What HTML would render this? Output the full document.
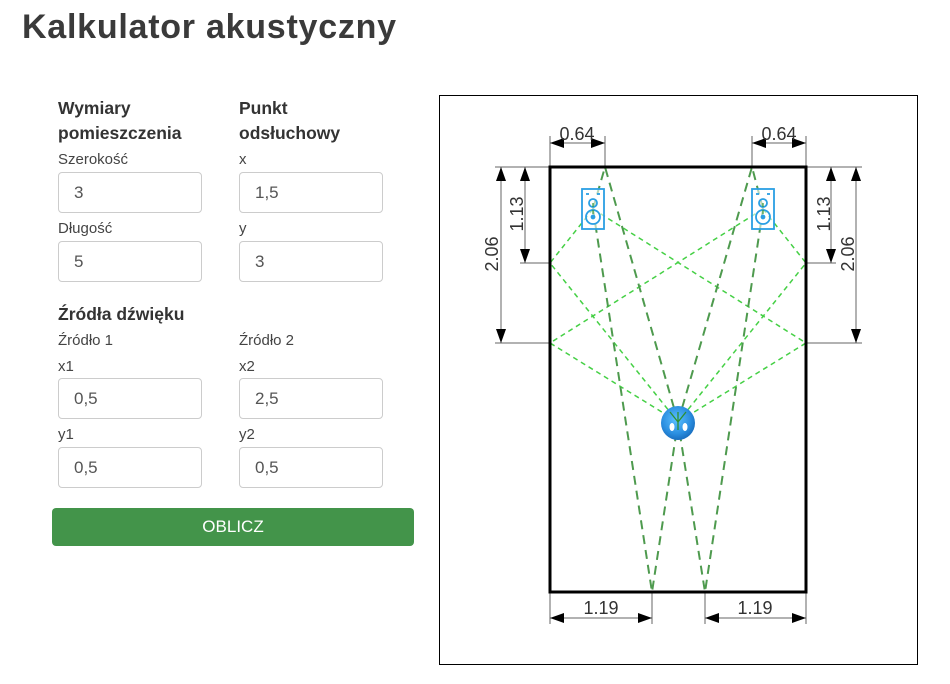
<!DOCTYPE html>
<html><head><meta charset="utf-8"><style>
html,body{margin:0;padding:0;background:#fff;}
body{width:950px;height:684px;position:relative;overflow:hidden;font-family:"Liberation Sans",Arial,sans-serif;}
.t{position:absolute;white-space:nowrap;line-height:1;}
.title{left:22px;top:10px;font-size:34px;font-weight:bold;color:#3a3a3a;letter-spacing:0.75px;}
.h{font-size:17.5px;font-weight:bold;color:#333;}
.l{font-size:15px;color:#444;}
.in{position:absolute;width:142px;height:39px;border:1px solid #ccc;border-radius:4px;background:#fff;box-sizing:content-box;}
.in span{position:absolute;left:15px;top:11px;font-size:17px;color:#555;line-height:1;}
.btn{position:absolute;left:52px;top:508px;width:362px;height:38px;background:#43944a;border-radius:4px;color:#fff;font-size:17px;text-align:center;line-height:38px;}
.frame{position:absolute;left:439px;top:95px;width:477px;height:568px;border:1px solid #000;}
</style></head><body>
<div class="t title">Kalkulator akustyczny</div>

<div class="t h" style="left:58px;top:100px;">Wymiary</div>
<div class="t h" style="left:58px;top:125px;">pomieszczenia</div>
<div class="t h" style="left:239px;top:100px;">Punkt</div>
<div class="t h" style="left:239px;top:125px;">odsłuchowy</div>

<div class="t l" style="left:58px;top:152px;">Szerokość</div>
<div class="t l" style="left:239px;top:152px;">x</div>
<div class="in" style="left:58px;top:172px;"><span>3</span></div>
<div class="in" style="left:239px;top:172px;"><span>1,5</span></div>

<div class="t l" style="left:58px;top:221px;">Długość</div>
<div class="t l" style="left:239px;top:221px;">y</div>
<div class="in" style="left:58px;top:241px;"><span>5</span></div>
<div class="in" style="left:239px;top:241px;"><span>3</span></div>

<div class="t h" style="left:58px;top:306px;">Źródła dźwięku</div>
<div class="t l" style="left:58px;top:333px;">Źródło 1</div>
<div class="t l" style="left:239px;top:333px;">Źródło 2</div>
<div class="t l" style="left:58px;top:359px;">x1</div>
<div class="t l" style="left:239px;top:359px;">x2</div>
<div class="in" style="left:58px;top:378px;"><span>0,5</span></div>
<div class="in" style="left:239px;top:378px;"><span>2,5</span></div>
<div class="t l" style="left:58px;top:427px;">y1</div>
<div class="t l" style="left:239px;top:427px;">y2</div>
<div class="in" style="left:58px;top:447px;"><span>0,5</span></div>
<div class="in" style="left:239px;top:447px;"><span>0,5</span></div>

<div class="btn">OBLICZ</div>

<div class="frame"></div>

<svg width="950" height="684" style="position:absolute;left:0;top:0;" xmlns="http://www.w3.org/2000/svg">
<defs>
<radialGradient id="lg" cx="45%" cy="40%" r="60%">
<stop offset="0" stop-color="#5cc0ff"/>
<stop offset="0.7" stop-color="#2a8ee0"/>
<stop offset="1" stop-color="#1a6fc0"/>
</radialGradient>
</defs>
<!-- extension lines -->
<g stroke="#666" stroke-width="1" fill="none">
<line x1="550" y1="136" x2="550" y2="167"/>
<line x1="605" y1="136" x2="605" y2="167"/>
<line x1="752" y1="136" x2="752" y2="167"/>
<line x1="806" y1="136" x2="806" y2="167"/>
<line x1="495" y1="167" x2="550" y2="167"/>
<line x1="520" y1="263" x2="550" y2="263"/>
<line x1="495" y1="343" x2="550" y2="343"/>
<line x1="806" y1="167" x2="862" y2="167"/>
<line x1="806" y1="263" x2="836" y2="263"/>
<line x1="806" y1="343" x2="862" y2="343"/>
<line x1="550" y1="592" x2="550" y2="624"/>
<line x1="652" y1="592" x2="652" y2="624"/>
<line x1="705" y1="592" x2="705" y2="624"/>
<line x1="806" y1="592" x2="806" y2="624"/>
<!-- dimension lines -->
<line x1="550" y1="143" x2="605" y2="143"/>
<line x1="752" y1="143" x2="806" y2="143"/>
<line x1="525" y1="167" x2="525" y2="263"/>
<line x1="501" y1="167" x2="501" y2="343"/>
<line x1="831" y1="167" x2="831" y2="263"/>
<line x1="856" y1="167" x2="856" y2="343"/>
<line x1="550" y1="618" x2="652" y2="618"/>
<line x1="705" y1="618" x2="806" y2="618"/>
</g>
<!-- arrowheads -->
<g fill="#000">
<polygon points="550,143 564,138 564,148"/>
<polygon points="605,143 591,138 591,148"/>
<polygon points="752,143 766,138 766,148"/>
<polygon points="806,143 792,138 792,148"/>
<polygon points="525,167 520,181 530,181"/>
<polygon points="525,263 520,249 530,249"/>
<polygon points="501,167 496,181 506,181"/>
<polygon points="501,343 496,329 506,329"/>
<polygon points="831,167 826,181 836,181"/>
<polygon points="831,263 826,249 836,249"/>
<polygon points="856,167 851,181 861,181"/>
<polygon points="856,343 851,329 861,329"/>
<polygon points="550,618 564,613 564,623"/>
<polygon points="652,618 638,613 638,623"/>
<polygon points="705,618 719,613 719,623"/>
<polygon points="806,618 792,613 792,623"/>
</g>
<!-- dimension text -->
<g font-family="Liberation Sans, Arial, sans-serif" font-size="18" fill="#333" text-anchor="middle">
<text x="577" y="140">0.64</text>
<text x="779" y="140">0.64</text>
<text x="601" y="614">1.19</text>
<text x="755" y="614">1.19</text>
<text transform="translate(523,214) rotate(-90)">1.13</text>
<text transform="translate(498,254) rotate(-90)">2.06</text>
<text transform="translate(830,214) rotate(-90)">1.13</text>
<text transform="translate(854,254) rotate(-90)">2.06</text>
</g>
<!-- light green reflections -->
<g stroke="#45d045" stroke-width="1.5" stroke-dasharray="5 4" fill="none">
<polyline points="593,209 550,263 678,422"/>
<polyline points="593,209 806,343 678,422"/>
<polyline points="763,209 806,263 678,422"/>
<polyline points="763,209 550,343 678,422"/>
</g>
<!-- dark green reflections -->
<g stroke="#4e9a4e" stroke-width="2" stroke-dasharray="9 6" fill="none">
<polyline points="593,209 605,167 678,422"/>
<polyline points="763,209 752,167 678,422"/>
<polyline points="593,209 652,592 678,422"/>
<polyline points="763,209 705,592 678,422"/>
</g>
<!-- room walls -->
<rect x="550" y="167" width="256" height="425" fill="none" stroke="#000" stroke-width="3"/>
<!-- speakers -->
<g stroke="#2a9fe4" stroke-width="1.8" fill="none">
<rect x="582" y="189" width="22" height="40" fill="#fff" fill-opacity="0.6"/>
<line x1="586" y1="194" x2="589" y2="194"/>
<line x1="597" y1="194" x2="600" y2="194"/>
<circle cx="593" cy="203" r="4"/>
<circle cx="593" cy="217" r="7"/>
<circle cx="593" cy="217" r="1.5" fill="#2a9fe4"/>
<rect x="752" y="189" width="22" height="40" fill="#fff" fill-opacity="0.6"/>
<line x1="756" y1="194" x2="759" y2="194"/>
<line x1="767" y1="194" x2="770" y2="194"/>
<circle cx="763" cy="203" r="4"/>
<circle cx="763" cy="217" r="7"/>
<circle cx="763" cy="217" r="1.5" fill="#2a9fe4"/>
</g>
<g stroke="#3a9a3a" stroke-width="1.2" stroke-dasharray="4 3">
<line x1="593" y1="203" x2="593" y2="217"/>
<line x1="763" y1="203" x2="763" y2="217"/>
</g>
<!-- listener -->
<circle cx="678" cy="423" r="17" fill="url(#lg)"/>
<ellipse cx="672" cy="427" rx="2.5" ry="4" fill="#fff"/>
<ellipse cx="685" cy="427" rx="2.5" ry="4" fill="#fff"/>
<g stroke="#2f8f2f" stroke-width="1.3">
<line x1="670" y1="412" x2="678" y2="422"/>
<line x1="686" y1="412" x2="678" y2="422"/>
<line x1="678" y1="412" x2="678" y2="430"/>
</g>
</svg>
</body></html>
